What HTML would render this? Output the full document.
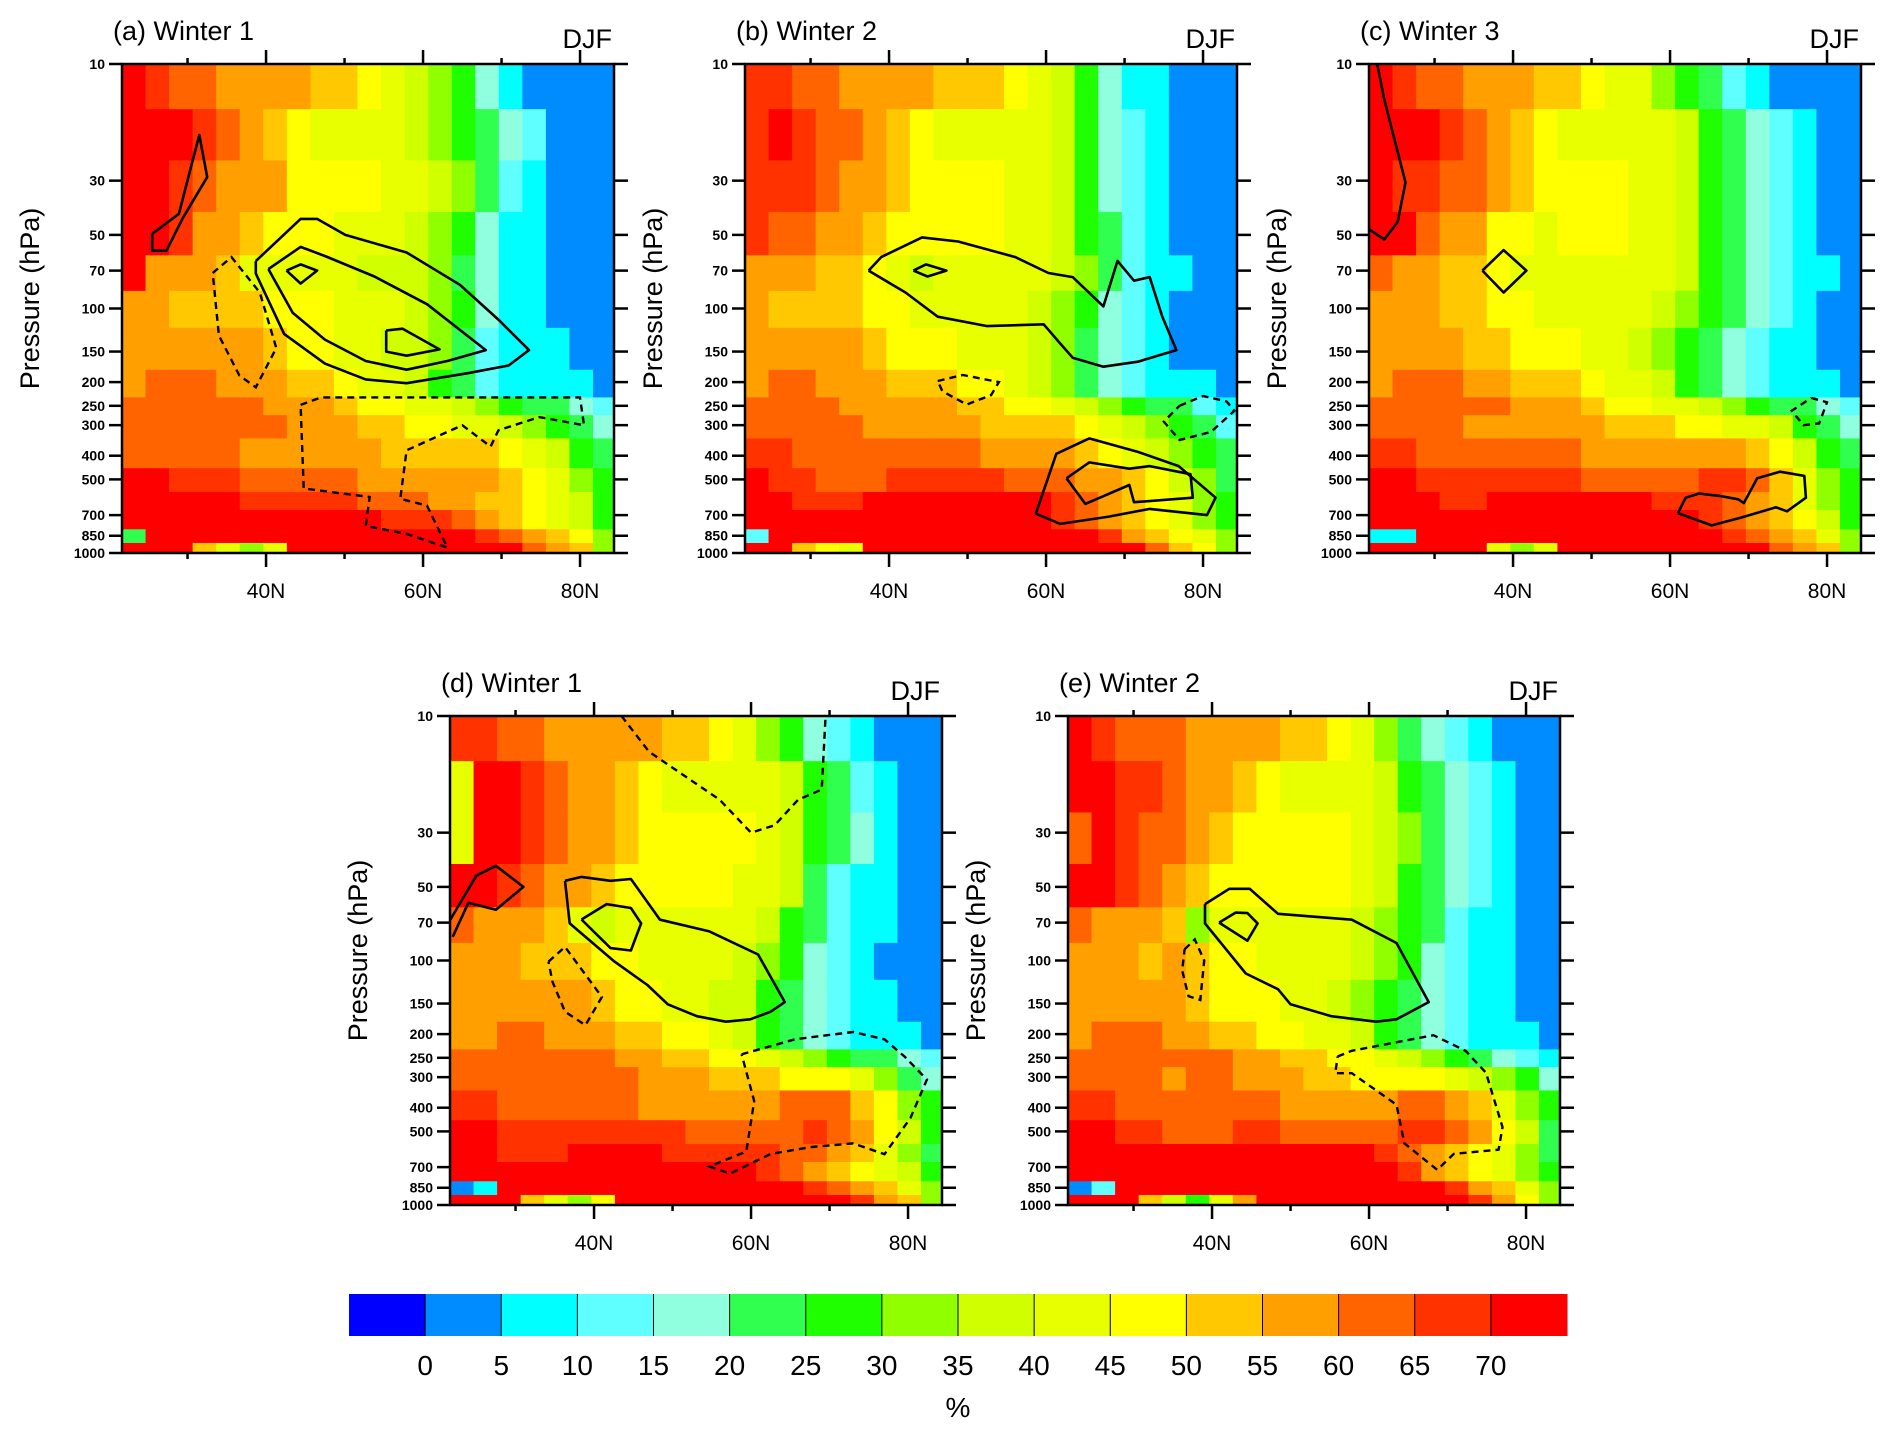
<!DOCTYPE html>
<html>
<head>
<meta charset="utf-8">
<style>
html,body{margin:0;padding:0;background:#fff;}
svg{display:block;font-family:"Liberation Sans",sans-serif;}
</style>
</head>
<body>
<svg id="fig" width="1892" height="1437" viewBox="0 0 1892 1437" xmlns="http://www.w3.org/2000/svg"></svg>
<script>
// ---------- data ----------
const latStart = 21.65;
const latStep = 3;
const pressureBounds = [10,15.3,24.8,40.3,60.6,84.7,120,178,231,273,340,450,563,667,800,910,1000];
const pressureTicks = [10,30,50,70,100,150,200,250,300,400,500,700,850,1000];
const latTicks = [30,40,50,60,70,80];
const latLabels = ["","40N","","60N","","80N"];
const levelBounds = [0,5,10,15,20,25,30,35,40,45,50,55,60,65,70];
const levelLabels = ["0","5","10","15","20","25","30","35","40","45","50","55","60","65","70"];
const levelColors = ["#0000ff","#008cff","#00ffff","#60ffff","#90ffe0","#30ff50","#20ff00","#90ff00","#d0ff00","#e8ff00","#ffff00","#ffc800","#ffa000","#ff6400","#ff3200","#ff0000"];

const gridA = [
[72,67,62,62,57,57,57,57,52,52,47,42,37,32,27,17,7,2,2,2,2],
[72,72,72,67,62,57,52,47,42,42,42,42,37,32,27,22,17,12,2,2,2],
[72,72,67,62,57,57,57,47,47,47,47,42,42,37,32,22,12,7,2,2,2],
[72,72,67,57,57,52,47,47,47,42,42,42,37,32,27,17,7,7,2,2,2],
[72,57,57,57,52,42,42,42,42,42,37,37,37,32,22,17,7,7,2,2,2],
[57,57,52,52,52,52,47,47,47,42,42,42,37,32,27,17,7,7,2,2,2],
[57,57,57,57,57,57,52,47,47,42,42,37,37,32,22,12,7,7,7,2,2],
[57,62,62,62,57,57,57,52,52,47,42,42,37,27,22,12,7,7,7,7,2],
[62,62,62,62,62,62,57,57,57,52,47,47,42,42,37,32,27,22,22,17,12],
[62,62,62,62,62,62,62,57,57,57,52,52,47,47,42,42,37,32,27,22,17],
[62,62,62,62,62,57,57,57,57,57,57,52,52,52,52,52,47,42,37,27,22],
[72,72,67,67,67,62,62,62,62,62,57,57,57,57,57,57,52,47,42,32,27],
[72,72,72,72,72,67,67,67,67,67,62,62,62,57,57,52,52,47,42,37,27],
[72,72,72,72,72,72,72,72,72,72,72,67,67,67,62,57,52,47,42,37,27],
[22,72,72,72,72,72,72,72,72,72,72,72,72,72,72,67,62,57,52,47,32],
[72,72,72,52,42,32,42,72,72,72,72,72,72,72,72,72,72,62,57,52,32]];
const gridB = [
[67,67,62,62,57,57,57,57,52,52,52,47,42,37,27,17,7,7,2,2,2],
[67,72,67,62,62,57,52,47,42,42,42,42,42,37,27,17,12,7,2,2,2],
[67,67,67,62,57,57,52,47,47,47,47,42,42,37,27,17,12,7,2,2,2],
[67,62,62,57,57,52,47,47,47,47,47,42,42,37,27,22,12,7,2,2,2],
[57,57,57,52,52,47,42,37,42,42,42,42,42,37,32,22,12,7,7,2,2],
[57,52,52,52,52,47,47,42,42,42,42,42,37,32,27,17,12,7,2,2,2],
[57,57,57,57,57,52,47,47,47,42,42,42,37,32,22,17,12,7,2,2,2],
[57,62,62,57,57,57,52,52,52,47,47,42,37,32,22,17,12,7,7,7,2],
[62,62,62,62,57,57,57,57,57,52,52,47,47,42,37,32,27,22,22,12,7],
[62,62,62,62,62,57,57,57,57,57,52,52,52,52,47,42,37,32,27,22,12],
[67,67,62,62,62,62,62,62,62,62,57,57,57,57,52,47,42,37,32,27,22],
[72,67,67,62,62,62,67,67,67,67,67,62,62,62,57,57,52,47,37,32,22],
[72,72,67,67,67,72,72,72,72,72,72,72,72,67,62,57,52,47,42,32,27],
[72,72,72,72,72,72,72,72,72,72,72,72,72,67,62,57,52,47,42,32,27],
[12,72,72,72,72,72,72,72,72,72,72,72,72,72,72,67,57,52,47,42,32],
[72,72,52,47,42,72,72,72,72,72,72,72,72,72,72,72,72,62,52,47,32]];
const gridC = [
[72,67,62,62,57,57,57,52,52,47,42,42,32,27,22,12,7,2,2,2,2],
[72,72,72,67,62,57,52,47,42,42,42,42,42,37,27,22,17,12,7,2,2],
[72,67,67,62,62,57,52,47,47,47,47,42,42,37,27,22,17,12,7,2,2],
[72,72,62,57,57,47,47,42,47,47,47,42,42,37,27,22,17,12,7,2,2],
[62,57,57,52,52,47,42,42,42,42,42,42,42,37,27,22,17,12,7,7,2],
[57,57,57,52,52,47,47,42,42,42,42,42,37,32,27,22,17,12,7,2,2],
[57,57,57,57,52,52,47,47,47,42,42,37,32,27,22,17,12,7,7,2,2],
[57,62,62,62,57,57,52,52,52,47,42,42,37,27,22,17,12,7,7,7,2],
[62,62,62,62,62,62,57,57,57,52,47,47,42,42,37,32,27,22,22,17,12],
[62,62,62,62,57,57,57,57,57,57,52,52,52,47,47,42,42,37,27,22,17],
[67,67,62,62,62,62,62,62,62,57,57,57,57,57,57,57,52,47,37,27,22],
[72,72,67,67,67,67,67,67,67,62,62,62,62,62,67,67,62,52,42,32,27],
[72,72,72,67,67,72,72,72,72,72,72,72,67,67,67,62,57,52,42,32,27],
[72,72,72,72,72,72,72,72,72,72,72,72,72,72,67,62,57,52,47,37,27],
[7,7,72,72,72,72,72,72,72,72,72,72,72,72,72,67,62,57,52,42,32],
[72,72,72,72,72,42,32,42,72,72,72,72,72,72,72,72,72,62,57,52,32]];
const gridD = [
[67,67,62,62,57,57,57,57,57,52,52,47,42,32,27,17,12,7,2,2,2],
[42,72,72,67,62,57,57,52,47,42,42,42,42,42,37,27,22,12,7,2,2],
[42,72,72,67,62,57,57,52,47,47,47,47,47,42,37,27,22,17,7,2,2],
[72,72,67,62,57,57,52,47,47,47,47,47,42,42,37,22,12,7,7,2,2],
[62,57,57,57,52,42,37,42,42,42,42,42,42,37,27,22,12,7,7,2,2],
[57,57,57,52,52,52,47,47,42,42,42,42,37,32,27,17,12,7,2,2,2],
[57,57,57,57,57,57,52,47,47,42,42,37,37,27,22,17,12,7,7,2,2],
[57,57,62,62,57,57,57,52,52,47,47,42,37,27,22,17,12,7,7,7,2],
[62,62,62,62,62,62,62,57,57,52,52,47,47,42,37,32,27,22,22,17,12],
[62,62,62,62,62,62,62,62,57,57,57,52,52,52,47,47,47,42,32,22,17],
[67,67,62,62,62,62,62,62,57,57,57,57,57,57,62,62,62,52,47,32,27],
[72,72,67,67,67,67,67,67,67,67,62,62,62,62,62,67,62,57,47,37,27],
[72,72,67,67,67,72,72,72,72,67,67,67,67,67,62,62,57,52,42,32,22],
[72,72,72,72,72,72,72,72,72,72,72,72,72,67,62,57,52,47,42,37,27],
[2,7,72,72,72,72,72,72,72,72,72,72,72,72,72,67,62,57,52,42,32],
[72,72,72,52,42,32,47,72,72,72,72,72,72,72,72,72,72,67,57,52,32]];
const gridE = [
[72,67,62,62,62,57,57,57,57,52,52,47,42,32,22,17,12,7,2,2,2],
[72,72,67,67,62,57,57,52,47,42,42,42,42,37,27,22,17,12,7,2,2],
[62,72,67,62,62,57,52,47,47,47,47,47,42,37,32,22,17,12,7,2,2],
[72,72,67,62,57,52,47,47,47,47,47,47,42,37,27,22,17,12,7,2,2],
[62,57,57,57,52,32,42,42,42,42,42,42,37,32,27,22,12,7,7,2,2],
[57,57,57,52,57,52,47,47,42,42,42,42,37,32,27,17,12,7,7,2,2],
[57,57,57,57,57,52,47,47,47,42,42,37,32,27,22,17,12,7,7,2,2],
[57,62,62,62,57,57,52,52,47,47,42,42,37,27,22,17,12,7,7,7,2],
[62,62,62,62,62,62,62,57,57,52,52,47,47,42,37,32,27,22,17,12,7],
[62,62,62,62,57,62,62,57,57,57,52,52,47,47,47,47,42,37,32,27,17],
[67,67,62,62,62,62,62,62,62,57,57,57,57,57,62,62,57,52,42,32,27],
[72,72,67,67,62,62,62,67,67,62,62,62,62,62,67,67,62,57,47,37,22],
[72,72,72,72,72,72,72,72,72,72,72,72,72,67,62,57,52,47,42,32,22],
[72,72,72,72,72,72,72,72,72,72,72,72,72,72,67,57,52,47,42,32,27],
[2,12,72,72,72,72,72,72,72,72,72,72,72,72,72,72,67,57,52,42,32],
[72,72,72,52,37,27,42,57,72,72,72,72,72,72,72,72,72,67,57,47,32]];

// contours: [lat, pressure]
const contourA1 = [[38.7,64],[44.4,43],[46.5,43],[50.1,50],[57.9,59],[64.7,80],[69.6,111],[73.5,148],[70.9,171],[65.7,184],[57.9,202],[52.7,195],[47.5,168],[42.3,127],[38.7,72],[38.7,64]];
const contourA2 = [[40.3,69],[44.4,56],[47.5,61],[53.8,74],[60.5,96],[68,148],[63.1,164],[57.9,178],[52.7,164],[47.5,134],[43.4,104],[40.3,69]];
const contourA3 = [[42.6,70],[44.4,66],[46.5,70],[44.4,79],[42.6,70]];
const contourA4 = [[55.3,123],[57.4,121],[62.1,147],[57.9,156],[55.3,150],[55.3,123]];
const contourA5 = [[25.5,49.5],[28.9,41],[31.5,19.5],[32.5,29],[29.4,42.7],[27.3,58],[25.5,58],[25.5,49.5]];
const dashA1 = [[33.2,71.6],[35.6,61.6],[39.2,86],[41.3,145],[38.7,210],[36.6,188],[34,129],[33.2,71.6]];
const dashA2 = [[44.4,248],[47,231],[80,231],[80.5,300],[74.8,278],[69.6,315],[68.6,367],[65,300],[57.9,380],[57.1,600],[60.5,640],[63.1,950],[57.9,835],[52.7,775],[53.2,590],[44.8,545],[44.4,248]];
const contourB1 = [[37.4,70],[39,61.6],[44.2,51.2],[48.8,53.2],[56.1,61.6],[60.3,71.6],[63.4,74.4],[67.3,98],[69.1,63.9],[71.2,77],[73.2,74.4],[74.8,107.7],[76.6,148],[71.7,165],[67.3,173],[63.4,159],[61.8,139],[59.7,116],[52.5,118],[46.2,108],[42.1,86],[37.4,70]];
const contourB2 = [[43.1,70],[44.7,66],[47.3,70],[44.9,74],[43.1,70]];
const contourB3 = [[58.7,690],[61.3,393],[65.5,340],[71.7,386],[76.9,441],[81.6,594],[80.5,700],[73.2,660],[68,710],[61.8,760],[58.7,690]];
const contourB4 = [[62.6,495],[65.5,426],[70.6,452],[73.2,441],[78.4,476],[78.7,594],[71.2,620],[70.6,527],[65,630],[62.6,495]];
const dashB1 = [[46.2,198],[49.4,187],[54,200],[53,226],[49.9,247],[46.8,218],[46.2,198]];
const dashB2 = [[77,250],[80,228],[83,240],[84,262],[81,320],[77,345],[75,290],[77,250]];
const contourC1 = [[36.1,70],[38.8,57.7],[41.7,70],[38.8,86],[36.1,70]];
const contourC2 = [[22.7,10],[23.6,14],[26.3,30.5],[25.3,44.2],[23.6,52.2],[21.7,47.5]];
const contourC3 = [[61,687],[62,594],[63.7,571],[66.3,584],[68.7,603],[69.4,625],[71.1,495],[74,465],[77.1,484],[77.3,594],[74.9,675],[73.5,650],[69.2,714],[65.3,771],[61,687]];
const dashC1 = [[78,232],[80,242],[79,295],[77,300],[75.5,262],[78,232]];
const contourD1 = [[36.3,47.2],[38.4,45.5],[42.1,47.2],[44.7,46.4],[48.4,68.1],[54.7,76],[60.9,94.5],[64.3,148],[62.5,162],[59.9,174],[56.8,178],[53.1,169],[49.4,151],[46.8,126],[42.6,101],[36.9,70.5],[36.3,47.2]];
const contourD2 = [[38.4,68],[41.6,58.8],[44.7,61],[46,70.5],[44.7,91],[42.1,89],[38.4,68]];
const contourD3 = [[21.7,68],[25,45],[27.5,41],[31,50],[27.5,62],[24,58],[22,80]];
const dashD1 = [[58.8,242],[65.6,210],[73,196],[77,210],[79.6,248],[82.4,307],[80.3,441],[77,620],[73,560],[67.7,579],[62.5,618],[57.3,744],[54.7,695],[59.4,604],[60.4,376],[58.8,242]];
const dashD2 = [[34.2,101],[36.3,88],[41,141],[38.9,184],[36.3,162],[34.7,122],[34.2,101]];
const dashD3 = [[43.5,10],[47,14],[56,22],[60,30],[63,28],[66,22],[69,20],[69.5,10]];
const contourE1 = [[39.1,58.8],[42.2,50.9],[44.8,50.9],[48.4,64.4],[57.8,68.1],[63.5,84.8],[67.6,148],[63.5,174],[60.9,178],[55.2,169],[50,151],[48.4,131],[44.3,113],[39.1,70.5],[39.1,58.8]];
const contourE2 = [[40.9,70],[43,63.7],[44.5,64],[45.8,70.5],[44.5,83],[40.9,70]];
const dashE1 = [[56,247],[57.8,234],[68.2,202],[72.3,234],[74.9,288],[77,480],[76.5,594],[70.8,618],[68.7,718],[64.5,560],[63.5,389],[57.8,289],[55.7,289],[56,247]];
const dashE2 = [[36.5,90],[37.8,82],[39,100],[38.5,145],[37,140],[36.2,110],[36.5,90]];

// ---------- drawing ----------
const NS = "http://www.w3.org/2000/svg";
const svg = document.getElementById("fig");
const PW = 492, PH = 489, PPD = 7.85;
function mk(tag, attrs, parent){
  const e = document.createElementNS(NS, tag);
  for (const k in attrs) e.setAttribute(k, attrs[k]);
  (parent||svg).appendChild(e);
  return e;
}
function colorFor(v){
  let idx = 0;
  for (let i=0;i<levelBounds.length;i++) if (v >= levelBounds[i]) idx = i+1;
  return levelColors[idx];
}

const panels = [
  {id:"a", title:"(a) Winter 1", left:122, top:64, grid:gridA, solid:[contourA1,contourA2,contourA3,contourA4,contourA5], dash:[dashA1,dashA2], ylabel:true},
  {id:"b", title:"(b) Winter 2", left:745, top:64, grid:gridB, solid:[contourB1,contourB2,contourB3,contourB4], dash:[dashB1,dashB2], ylabel:true},
  {id:"c", title:"(c) Winter 3", left:1369, top:64, grid:gridC, solid:[contourC1,contourC2,contourC3], dash:[dashC1], ylabel:true},
  {id:"d", title:"(d) Winter 1", left:450, top:716, grid:gridD, solid:[contourD1,contourD2,contourD3], dash:[dashD1,dashD2,dashD3], ylabel:true},
  {id:"e", title:"(e) Winter 2", left:1068, top:716, grid:gridE, solid:[contourE1,contourE2], dash:[dashE1,dashE2], ylabel:true}
];

panels.forEach(P => {
  const xs = lat => P.left + (lat - latStart) * PPD;
  const ys = p => P.top + (Math.log10(p) - 1) / 2 * PH;
  const g = mk("g", {});
  
  
  const clipId = "clip" + P.id;
  const cp = mk("clipPath", {id: clipId}, g);
  mk("rect", {x:P.left, y:P.top, width:PW, height:PH}, cp);
  const cells = mk("g", {"clip-path":"url(#"+clipId+")"}, g);
  
  
  P.grid.forEach((row, r) => {
    const y0 = ys(pressureBounds[r]), y1 = ys(pressureBounds[r+1]);
    row.forEach((v, c) => {
      const x0 = xs(latStart + c*latStep), x1 = xs(latStart + (c+1)*latStep);
      const rc = mk("rect", {x:x0, y:y0, width:x1-x0+0.6, height:y1-y0+0.6, fill:colorFor(v)}, cells);
      
      
    });
  });
  const toPts = arr => arr.map(q => xs(q[0]).toFixed(1)+","+ys(q[1]).toFixed(1)).join(" ");
  P.solid.forEach(arr => {
    const pl = mk("polyline", {points:toPts(arr), fill:"none", stroke:"#000", "stroke-width":2.6, "stroke-linejoin":"round"}, cells);
    
    
  });
  P.dash.forEach(arr => {
    const pl = mk("polyline", {points:toPts(arr), fill:"none", stroke:"#000", "stroke-width":2.4, "stroke-dasharray":"7,5"}, cells);
    
    
  });
  // frame
  const fr = mk("rect", {x:P.left, y:P.top, width:PW, height:PH, fill:"none", stroke:"#000", "stroke-width":2.5}, g);
  
  
  // x ticks
  latTicks.forEach((lt, i) => {
    const x = xs(lt);
    const len = latLabels[i] ? 14 : 6;
    mk("line", {x1:x, y1:P.top, x2:x, y2:P.top-len, stroke:"#000", "stroke-width":2.5}, g);
    mk("line", {x1:x, y1:P.top+PH, x2:x, y2:P.top+PH+len, stroke:"#000", "stroke-width":2.5}, g);
    if (latLabels[i]) {
      const t = mk("text", {x:x, y:P.top+PH+45, "text-anchor":"middle", "font-size":21}, g);
      t.textContent = latLabels[i];
      
      
    }
  });
  // y ticks
  pressureTicks.forEach(p => {
    const y = ys(p);
    mk("line", {x1:P.left-13, y1:y, x2:P.left, y2:y, stroke:"#000", "stroke-width":2.5}, g);
    mk("line", {x1:P.left+PW, y1:y, x2:P.left+PW+14, y2:y, stroke:"#000", "stroke-width":2.5}, g);
    const t = mk("text", {x:P.left-17, y:y+5, "text-anchor":"end", "font-size":14, "font-weight":"bold"}, g);
    t.textContent = String(p);
    
    
  });
  const yl = mk("text", {x:0, y:0, "text-anchor":"middle", "font-size":27, transform:"translate("+(P.left-83)+","+(P.top+PH/2-10)+") rotate(-90)"}, g);
  yl.textContent = "Pressure (hPa)";
  
  
  const tt = mk("text", {x:P.left-9, y:P.top-24, "font-size":27}, g);
  tt.textContent = P.title;
  
  
  const dj = mk("text", {x:P.left+PW-2, y:P.top-16, "text-anchor":"end", "font-size":27}, g);
  dj.textContent = "DJF";
  
  
});

// colorbar
const cb = mk("g", {});


const cbLeft = 349, cbRight = 1567, cbTop = 1294, cbBot = 1336;
const bw = (cbRight - cbLeft) / levelColors.length;
levelColors.forEach((c, i) => {
  const r = mk("rect", {x:cbLeft + i*bw, y:cbTop, width:bw+0.5, height:cbBot-cbTop, fill:c}, cb);
  
  
});
levelLabels.forEach((lb, i) => {
  const x = cbLeft + (i+1)*bw;
  mk("line", {x1:x, y1:cbTop, x2:x, y2:cbBot, stroke:"#000", "stroke-width":1}, cb);
  const t = mk("text", {x:x, y:1375, "text-anchor":"middle", "font-size":28}, cb);
  t.textContent = lb;
  
  
});
const pc = mk("text", {x:958, y:1417, "text-anchor":"middle", "font-size":28}, cb);
pc.textContent = "%";


</script>
</body>
</html>
